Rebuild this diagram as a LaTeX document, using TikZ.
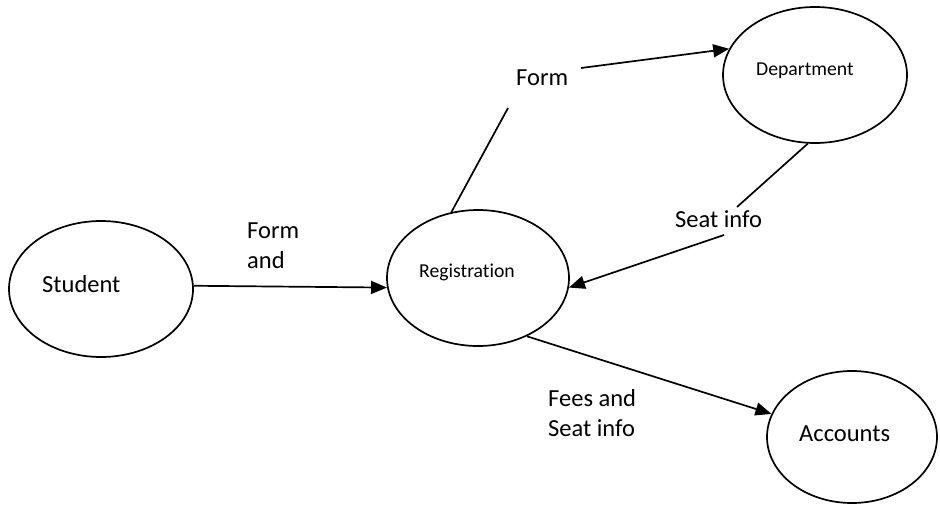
\documentclass[tikz,border=0pt]{standalone}
\usepackage{fontspec}
\setmainfont{Carlito}[Ligatures=NoCommon]
\usetikzlibrary{shapes.geometric,arrows.meta}
\tikzset{
  proc/.style={draw, ellipse, line width=1.7pt, inner sep=0pt},
  lbl/.style={inner sep=0pt, anchor=base west, align=left, font=\fontsize{24.5}{30}\selectfont},
  small/.style={inner sep=0pt, anchor=base west, font=\fontsize{19.7}{24}\selectfont},
  flow/.style={line width=1.7pt, -{Triangle[length=16pt,width=13pt]}},
  plain/.style={line width=1.7pt}
}
\begin{document}
\begin{tikzpicture}[x=1pt,y=-1pt]
\useasboundingbox (0,0) rectangle (940,504);
% processes
\node[proc, minimum width=184pt, minimum height=136pt] (stu) at (101,289) {};
\node[proc, minimum width=182pt, minimum height=136pt] (reg) at (478,278) {};
\node[proc, minimum width=184pt, minimum height=136pt] (dep) at (815,75) {};
\node[proc, minimum width=170pt, minimum height=132pt] (acc) at (852,437) {};
% texts inside
\node[lbl] (stuT) at (42,292) {Student};
\node[small] (regT) at (419,277) {Registration};
\node[small] (depT) at (756,75) {Department};
\node[lbl] (accT) at (799,441) {Accounts};
% flow labels (base anchor = last line)
\node[lbl] (l1) at (247,268) {Form\\and};
\node[lbl] (l2) at (516,85) {Form};
\node[lbl] (l3) at (675,227) {Seat info};
\node[lbl] (l4) at (548,436) {Fees and\\Seat info};
% free ends
\coordinate (f1) at (508,108);
\coordinate (f2) at (581,68);
\coordinate (s1) at (737,207);
\coordinate (s2) at (724,235);
% connectors
\draw[flow] (stu.2) -- (reg.186);
\draw[plain] (reg.112) -- (f1);
\draw[flow] (f2) -- (dep.163);
\draw[plain] (dep.264) -- (s1);
\draw[flow] (s2) -- (reg.354);
\draw[flow] (reg.310) -- (acc.164);
\end{tikzpicture}
\end{document}
